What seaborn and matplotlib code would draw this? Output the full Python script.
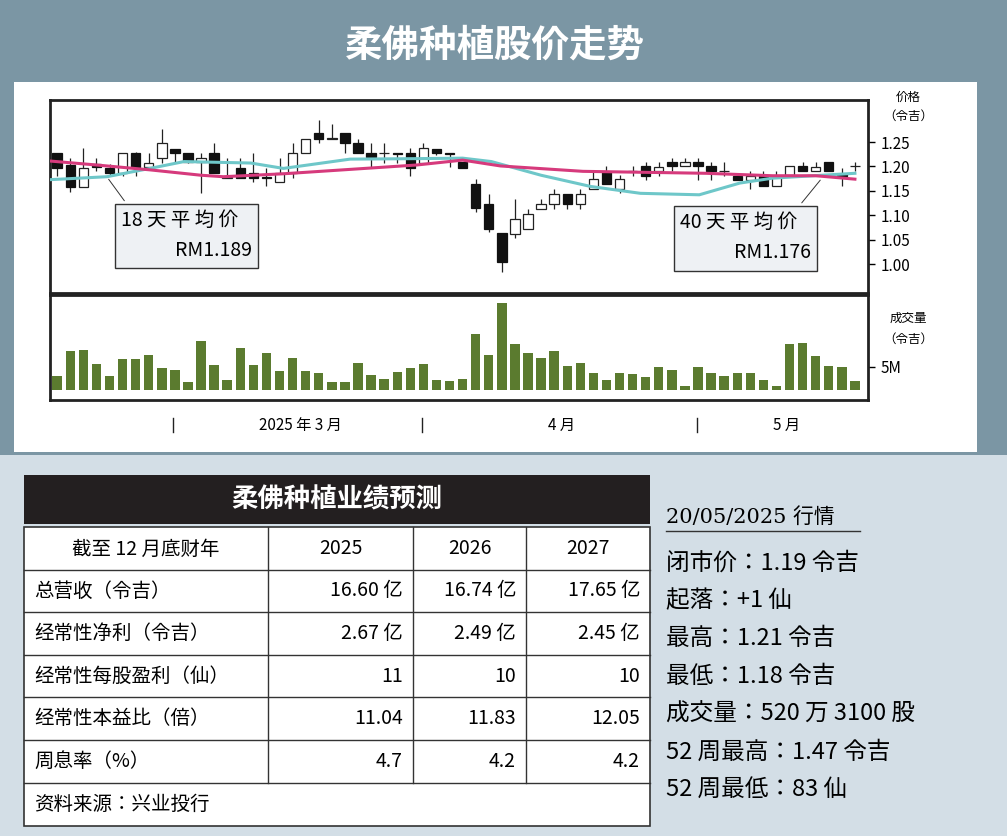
import matplotlib
matplotlib.use("Agg")
import matplotlib.pyplot as plt
import seaborn as sns
import numpy as np
import pandas as pd
from matplotlib.patches import Rectangle
from matplotlib import font_manager

names = {f.name for f in font_manager.fontManager.ttflist}
cjk = [n for n in ["Noto Sans CJK SC", "Noto Sans CJK JP", "Noto Sans CJK TC", "Noto Sans CJK KR"] if n in names]
plt.rcParams["font.family"] = cjk + ["DejaVu Sans"]

# ---------------- data ----------------
opens  = [1.227,1.203,1.157,1.205,1.197,1.186,1.227,1.199,1.217,1.236,1.227,1.210,1.227,1.176,1.196,1.187,1.178,1.169,1.186,1.227,
          1.268,1.256,1.268,1.248,1.227,1.227,1.227,1.227,1.207,1.236,1.227,1.210,1.164,1.124,1.064,1.062,1.073,1.113,1.123,1.143,
          1.123,1.154,1.188,1.154,1.190,1.200,1.190,1.210,1.200,1.210,1.200,1.190,1.180,1.172,1.180,1.161,1.182,1.200,1.190,1.209,1.185,1.200]
closes = [1.196,1.157,1.196,1.199,1.187,1.227,1.199,1.207,1.248,1.227,1.210,1.217,1.187,1.179,1.177,1.177,1.176,1.187,1.227,1.256,
          1.256,1.256,1.248,1.227,1.220,1.227,1.226,1.196,1.237,1.227,1.226,1.196,1.114,1.073,1.004,1.092,1.103,1.124,1.143,1.123,
          1.143,1.174,1.164,1.174,1.190,1.180,1.199,1.200,1.210,1.200,1.190,1.190,1.172,1.180,1.161,1.180,1.200,1.190,1.199,1.190,1.180,1.200]
highs  = [1.227,1.217,1.237,1.217,1.205,1.227,1.230,1.227,1.276,1.236,1.227,1.227,1.248,1.217,1.217,1.227,1.196,1.217,1.248,1.256,
          1.295,1.287,1.268,1.256,1.248,1.248,1.228,1.237,1.248,1.236,1.228,1.210,1.174,1.143,1.064,1.133,1.113,1.133,1.154,1.143,
          1.154,1.192,1.201,1.182,1.200,1.209,1.209,1.218,1.218,1.218,1.209,1.210,1.180,1.190,1.190,1.190,1.200,1.209,1.209,1.209,1.196,1.210]
lows   = [1.180,1.148,1.157,1.190,1.180,1.180,1.180,1.193,1.207,1.207,1.207,1.145,1.187,1.176,1.176,1.169,1.160,1.169,1.176,1.227,
          1.248,1.256,1.227,1.227,1.196,1.207,1.207,1.180,1.207,1.224,1.199,1.196,1.106,1.065,0.983,1.054,1.073,1.113,1.113,1.113,
          1.113,1.154,1.164,1.145,1.181,1.172,1.181,1.190,1.200,1.172,1.172,1.181,1.172,1.154,1.161,1.161,1.182,1.190,1.190,1.190,1.160,1.190]
volumes = [3.0,8.5,8.7,5.7,3.0,6.7,6.7,7.6,4.8,4.3,1.7,10.6,5.4,2.2,9.1,5.4,8.0,4.1,7.0,4.1,3.7,1.7,1.7,5.9,3.3,2.4,3.9,4.8,5.7,2.2,
           2.0,2.4,12.2,7.6,18.9,10.0,8.0,7.0,8.5,5.2,5.9,3.7,2.2,3.7,3.5,2.8,5.0,4.3,0.9,5.0,3.7,3.0,3.7,3.7,2.2,0.9,10.0,10.2,7.4,5.2,5.0,2.0]
ma18_x = [-0.5,3.8,7.1,9.7,14.8,17.3,22.4,27.5,31,33.2,37,40.8,44.6,49.1,52.2,54.7,61]
ma18_y = [1.173,1.179,1.196,1.210,1.207,1.196,1.215,1.216,1.217,1.210,1.182,1.159,1.145,1.142,1.166,1.176,1.186]
ma40_x = [-0.5,3,7.1,11,12.7,17.3,22.4,27.5,31,33.9,40.2,49.6,54.7,58,61]
ma40_y = [1.211,1.203,1.193,1.182,1.179,1.185,1.194,1.203,1.213,1.201,1.190,1.186,1.181,1.181,1.174]
price_ticks = [1.00,1.05,1.10,1.15,1.20,1.25]
month_labels = ["2025 年 3 月", "4 月", "5 月"]

tbl_cols = ["截至 12 月底财年", "2025", "2026", "2027"]
tbl_rows = ["总营收（令吉）", "经常性净利（令吉）", "经常性每股盈利（仙）", "经常性本益比（倍）", "周息率（%）"]
tbl_vals = [["16.60 亿", "16.74 亿", "17.65 亿"],
            ["2.67 亿", "2.49 亿", "2.45 亿"],
            ["11", "10", "10"],
            ["11.04", "11.83", "12.05"],
            ["4.7", "4.2", "4.2"]]
stats_title = "20/05/2025 行情"
stats = ["闭市价：1.19 令吉", "起落：+1 仙", "最高：1.21 令吉", "最低：1.18 令吉",
         "成交量：520 万 3100 股", "52 周最高：1.47 令吉", "52 周最低：83 仙"]

# ---------------- layout ----------------
W, H = 1007, 836
fig = plt.figure(figsize=(W/100, H/100), dpi=100)
def X(x): return x / W
def Y(y): return 1 - y / H
def rect(x0, y0, x1, y1, **kw):
    fig.add_artist(Rectangle((X(x0), Y(y1)), (x1-x0)/W, (y1-y0)/H, transform=fig.transFigure, **kw))

slate = "#7b96a4"
rect(0, 0, W, 455, facecolor=slate, edgecolor="none", zorder=0)
rect(0, 455, W, H, facecolor="#d3dee6", edgecolor="none", zorder=0)
rect(14, 82, 977, 452, facecolor="white", edgecolor="none", zorder=0)
fig.text(X(495), Y(45), "柔佛种植股价走势", color="white", fontsize=27, fontweight="bold",
         ha="center", va="center")

axp = fig.add_axes([X(50), Y(293), (868-50)/W, (293-100)/H])
axv = fig.add_axes([X(50), Y(400), (868-50)/W, (400-295)/H])
for a in (axp, axv):
    for s in a.spines.values():
        s.set_linewidth(2)
        s.set_color("#222")
    a.set_xlim(-0.55, 62)

idx = np.arange(len(opens))
o, c, h, l = map(np.array, (opens, closes, highs, lows))
axp.vlines(idx, l, h, color="#222", lw=0.9, zorder=2)
up = c >= o
body_b = np.minimum(o, c)
body_h = np.maximum(np.abs(c - o), 0.0015)
axp.bar(idx[up], body_h[up], bottom=body_b[up], width=0.72, facecolor="white", edgecolor="#222", lw=0.9, zorder=3)
axp.bar(idx[~up], body_h[~up], bottom=body_b[~up], width=0.72, facecolor="#111", edgecolor="#111", lw=0.9, zorder=3)
sns.lineplot(x=ma18_x, y=ma18_y, ax=axp, color="#6ec7c9", lw=2.2, zorder=4)
sns.lineplot(x=ma40_x, y=ma40_y, ax=axp, color="#d63a7c", lw=2.2, zorder=4)
axp.set_ylim(0.941, 1.336)
axp.set_xticks([])
axp.yaxis.tick_right()
axp.set_yticks(price_ticks)
axp.set_yticklabels([f"{t:.2f}" for t in price_ticks], fontsize=11)
axp.tick_params(axis="y", length=5, width=1, pad=4, direction="out")

def lbox(x0, y0, x1, y1, l1, l2, lx0, ly0, lx1, ly1):
    axp.annotate("", xy=(lx1, ly1), xycoords=fig.transFigure, xytext=(lx0, ly0), textcoords=fig.transFigure,
                 arrowprops=dict(arrowstyle="-", color="#333", lw=0.7))
    r = Rectangle((X(x0), Y(y1)), (x1-x0)/W, (y1-y0)/H, transform=fig.transFigure,
                  facecolor="#eef1f4", edgecolor="#333", lw=1, zorder=5)
    fig.add_artist(r)
    fig.text(X(x0+6), Y(y0+16), l1, fontsize=14, va="center", ha="left", zorder=6)
    fig.text(X(x1-6), Y(y0+47), l2, fontsize=14, va="center", ha="right", zorder=6)
lbox(115, 204, 258, 268, "18 天 平 均 价", "RM1.189", X(126), Y(203), X(107), Y(177))
lbox(674, 206, 817, 271, "40 天 平 均 价", "RM1.176", X(800), Y(205), X(822), Y(178))

fig.text(X(908), Y(97), "价格", fontsize=9, ha="center", va="center")
fig.text(X(908), Y(116), "（令吉）", fontsize=9, ha="center", va="center")

vdf = pd.DataFrame({"i": idx, "v": volumes})
sns.barplot(data=vdf, x="i", y="v", color="#5b7b2f", saturation=1, width=0.72, ax=axv, edgecolor="none")
axv.set_xlim(-0.55, 62)
axv.set_ylim(-2.2, 20.7)
axv.set_xticks([])
axv.set_xlabel("")
axv.set_ylabel("")
axv.yaxis.tick_right()
axv.set_yticks([5])
axv.set_yticklabels(["5M"], fontsize=11)
axv.tick_params(axis="y", length=5, width=1, pad=4)
fig.text(X(908), Y(318), "成交量", fontsize=9, ha="center", va="center")
fig.text(X(908), Y(339), "（令吉）", fontsize=9, ha="center", va="center")

for xx in (173, 422, 697):
    fig.add_artist(plt.Line2D([X(xx), X(xx)], [Y(418), Y(432)], transform=fig.transFigure, color="#222", lw=1))
for xx, t in zip((300, 562, 787), month_labels):
    fig.text(X(xx), Y(425), t, fontsize=11, ha="center", va="center")

tx = [24, 268, 413, 526, 650]
rect(24, 475, 650, 524, facecolor="#231f20", edgecolor="none", zorder=1)
fig.text(X(337), Y(500), "柔佛种植业绩预测", color="white", fontsize=19, fontweight="bold", ha="center", va="center")
ry = [527, 570, 612, 655, 697, 740, 783, 826]
rect(24, 527, 650, 826, facecolor="white", edgecolor="#333", lw=1.2, zorder=1)
for y in ry[1:-1]:
    fig.add_artist(plt.Line2D([X(24), X(650)], [Y(y), Y(y)], transform=fig.transFigure, color="#333", lw=1))
for xx in tx[1:-1]:
    fig.add_artist(plt.Line2D([X(xx), X(xx)], [Y(527), Y(783)], transform=fig.transFigure, color="#333", lw=1))
fig.text(X(146), Y(549), tbl_cols[0], fontsize=14, ha="center", va="center")
for j in range(3):
    fig.text(X((tx[j+1]+tx[j+2])/2), Y(549), tbl_cols[j+1], fontsize=14, ha="center", va="center")
for i, rn in enumerate(tbl_rows):
    yc = (ry[i+1]+ry[i+2])/2
    fig.text(X(34), Y(yc), rn, fontsize=14, ha="left", va="center")
    for j in range(3):
        fig.text(X(tx[j+2]-10), Y(yc), tbl_vals[i][j], fontsize=14, ha="right", va="center")
fig.text(X(34), Y(804), "资料来源：兴业投行", fontsize=14, ha="left", va="center")

fig.text(X(666), Y(517), stats_title, fontsize=15, ha="left", va="center", family=["DejaVu Serif"] + cjk)
fig.add_artist(plt.Line2D([X(666), X(860)], [Y(531), Y(531)], transform=fig.transFigure, color="#333", lw=1))
for k, s in enumerate(stats):
    fig.text(X(666), Y(563 + k*37.8), s, fontsize=17, ha="left", va="center")

fig.savefig("out.png", dpi=100)
